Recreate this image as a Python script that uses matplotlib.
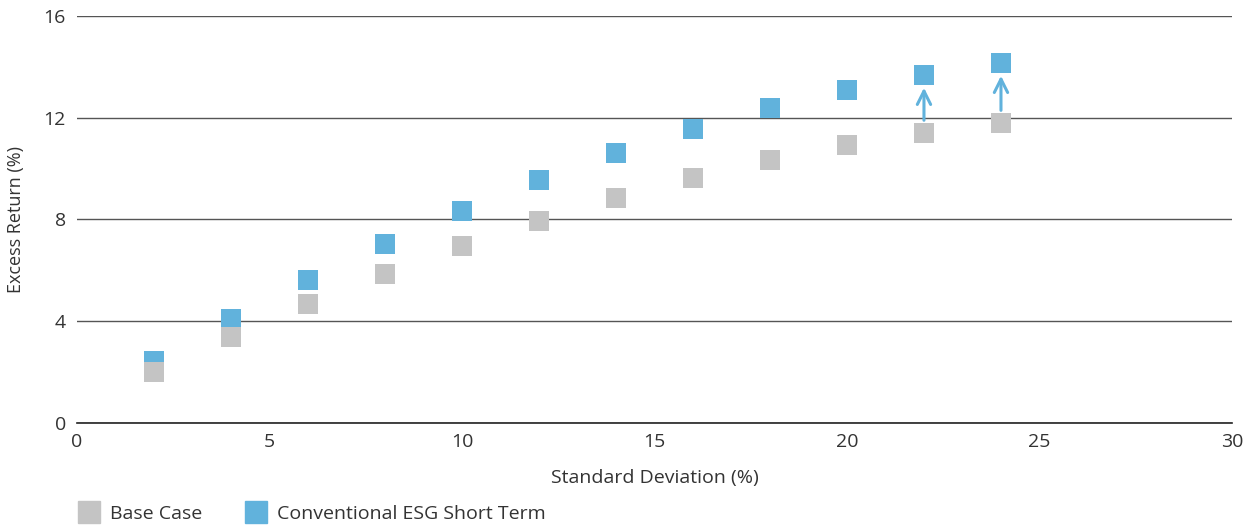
import matplotlib
matplotlib.use("Agg")
import matplotlib.pyplot as plt
from matplotlib.lines import Line2D

plt.rcParams['font.family'] = ['Open Sans', 'DejaVu Sans']

std_dev = [2, 4, 6, 8, 10, 12, 14, 16, 18, 20, 22, 24]
base_case = [2.0, 3.38, 4.68, 5.86, 6.96, 7.94, 8.84, 9.63, 10.34, 10.93, 11.40, 11.79]
esg_short = [2.45, 4.09, 5.62, 7.04, 8.33, 9.55, 10.61, 11.56, 12.38, 13.09, 13.68, 14.15]
arrow_idx = [10, 11]

xticks = [0, 5, 10, 15, 20, 25, 30]
yticks = [0, 4, 8, 12, 16]

grey = '#C4C4C4'
blue = '#61B2DC'
text_c = '#333333'

fig = plt.figure(figsize=(12.52, 5.29), dpi=100)
ax = fig.add_axes([0.0615, 0.2004, 0.9225, 0.7694])

ax.scatter(std_dev, esg_short, marker='s', s=210, color=blue, linewidths=0, zorder=3)
ax.scatter(std_dev, base_case, marker='s', s=210, color=grey, linewidths=0, zorder=4)

for i in arrow_idx:
    y0 = base_case[i] + 0.5
    y1 = esg_short[i] - 0.5
    ax.annotate('', xy=(std_dev[i], y1), xytext=(std_dev[i], y0),
                arrowprops=dict(arrowstyle='->', color=blue, lw=2.2,
                                mutation_scale=24, shrinkA=0, shrinkB=0), zorder=5)

ax.set_xlim(0, 30)
ax.set_ylim(0, 16)
ax.set_xticks(xticks)
ax.set_yticks(yticks)
ax.yaxis.grid(True, color='#555555', lw=1.0)
ax.set_axisbelow(True)
for s in ['top', 'right', 'left']:
    ax.spines[s].set_visible(False)
ax.spines['bottom'].set_color('#222222')
ax.spines['bottom'].set_linewidth(1.2)
ax.tick_params(axis='both', length=0, labelsize=14, colors=text_c)
ax.tick_params(axis='x', pad=7)
ax.tick_params(axis='y', pad=8)
ax.set_xlabel('Standard Deviation (%)', fontsize=14, color=text_c, labelpad=13)
ax.set_ylabel('Excess Return (%)', fontsize=13, color=text_c, labelpad=13)

handles = [Line2D([], [], marker='s', ls='none', color=grey, markersize=16, label='Base Case'),
           Line2D([], [], marker='s', ls='none', color=blue, markersize=16, label='Conventional ESG Short Term')]
fig.legend(handles=handles, loc='lower left', bbox_to_anchor=(0.0495, -0.022), ncol=2,
           frameon=False, fontsize=14, handletextpad=0.55, columnspacing=2.3,
           labelcolor=text_c, handlelength=1.0)

fig.savefig('out.png', dpi=100)
